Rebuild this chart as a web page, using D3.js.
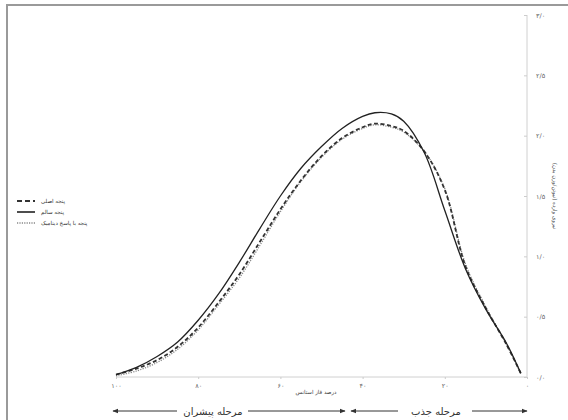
<!DOCTYPE html>
<html><head><meta charset="utf-8">
<script src="https://cdn.jsdelivr.net/npm/d3@7"></script>
<style>body{margin:0;background:#fff}svg{display:block;font-family:"DejaVu Sans",sans-serif}</style>
</head><body>
<svg id="c" width="568" height="420"></svg>
<script>
const stance = [100,95,90,85,80,75,70,65,60,55,50,45,40,37,33,30,25,20,15,10,5,1.5];
const mainFoot = [0.02,0.07,0.14,0.25,0.41,0.62,0.85,1.12,1.39,1.63,1.83,1.98,2.07,2.10,2.08,2.04,1.87,1.55,0.92,0.57,0.27,0.03];
const healthyFoot = [0.02,0.08,0.17,0.29,0.47,0.69,0.95,1.23,1.50,1.73,1.91,2.06,2.16,2.19,2.18,2.12,1.86,1.38,0.90,0.56,0.28,0.03];
const dynamicFoot = [0.01,0.05,0.12,0.23,0.39,0.60,0.82,1.09,1.37,1.62,1.82,1.97,2.06,2.09,2.07,2.03,1.87,1.56,0.94,0.58,0.27,0.03];
const seriesNames = ["پنجه اصلی","پنجه سالم","پنجه با پاسخ دینامیک"];
const xTicks = [100,80,60,40,20,0];
const xTickLabels = ["۱۰۰","۸۰","۶۰","۴۰","۲۰","۰"];
const yTicks = [0,0.5,1,1.5,2,2.5,3];
const yTickLabels = ["۰/۰","۰/۵","۱/۰","۱/۵","۲/۰","۲/۵","۳/۰"];
const xTitle = "درصد فاز استانس";
const yTitle = "نیروی وارده (نیوتن/وزن بدن)";
const phaseLabels = ["مرحله پیشران","مرحله جذب"];

const svg = d3.select("#c");
svg.append("rect").attr("x",7).attr("y",5).attr("width",575).attr("height",430)
  .attr("fill","none").attr("stroke","#9a9a9a").attr("stroke-width",2);

const x = d3.scaleLinear().domain([100,0]).range([116,527]);
const y = d3.scaleLinear().domain([0,3]).range([377,15]);

svg.append("line").attr("x1",x(100)).attr("x2",x(0)).attr("y1",y(0)).attr("y2",y(0)).attr("stroke","#d0d0d0");
svg.append("line").attr("x1",x(0)).attr("x2",x(0)).attr("y1",y(0)).attr("y2",y(3)).attr("stroke","#d0d0d0");

const gy = svg.append("g").attr("transform",`translate(${x(0)},0)`)
  .call(d3.axisRight(y).tickValues(yTicks).tickSize(0).tickPadding(9).tickFormat((d,i)=>yTickLabels[i]));
gy.select(".domain").remove();
gy.selectAll("text").attr("font-size",6.5).attr("fill","#666").attr("font-family","DejaVu Sans");
gy.selectAll(".tick").append("line").attr("x1",-3).attr("x2",0).attr("stroke","#ccc");

const gx = svg.append("g").attr("transform",`translate(0,${y(0)})`)
  .call(d3.axisBottom(x).tickValues(xTicks).tickSize(0).tickPadding(6).tickFormat((d,i)=>xTickLabels[i]));
gx.select(".domain").remove();
gx.selectAll("text").attr("font-size",6.5).attr("fill","#666").attr("font-family","DejaVu Sans");
gx.selectAll(".tick").append("line").attr("y1",0).attr("y2",2).attr("stroke","#ccc");

svg.append("text").attr("x",316).attr("y",394).attr("text-anchor","middle")
  .attr("font-size",5.5).attr("fill","#444").text(xTitle);
svg.append("text").attr("transform","translate(553,196) rotate(90)").attr("text-anchor","middle")
  .attr("font-size",5.5).attr("fill","#444").text(yTitle);

const line = d3.line().x(d=>x(d[0])).y(d=>y(d[1])).curve(d3.curveCatmullRom.alpha(0.5));
const series = [
  {vals: dynamicFoot, stroke:"#888", dash:"1.2,1.3", w:1.3},
  {vals: mainFoot, stroke:"#333", dash:"4,2.5", w:1.8},
  {vals: healthyFoot, stroke:"#222", dash:null, w:1.3}
];
series.forEach(s=>{
  svg.append("path").datum(stance.map((v,i)=>[v,s.vals[i]]))
    .attr("d",line).attr("fill","none").attr("stroke",s.stroke)
    .attr("stroke-width",s.w).attr("stroke-dasharray",s.dash);
});

const leg = [
  {name:seriesNames[0], stroke:"#333", dash:"5,3", w:2.2, yy:201},
  {name:seriesNames[1], stroke:"#222", dash:null, w:1.6, yy:212},
  {name:seriesNames[2], stroke:"#888", dash:"1.2,1.2", w:1.3, yy:223}
];
leg.forEach(l=>{
  svg.append("line").attr("x1",17).attr("x2",35).attr("y1",l.yy).attr("y2",l.yy)
    .attr("stroke",l.stroke).attr("stroke-width",l.w).attr("stroke-dasharray",l.dash);
  svg.append("text").attr("x",41).attr("y",l.yy+2).attr("font-size",5.5).attr("fill","#333")
    .attr("direction","rtl").attr("text-anchor","end").text(l.name);
});

const defs = svg.append("defs");
defs.append("marker").attr("id","ah").attr("viewBox","0 0 10 10").attr("refX",9).attr("refY",5)
  .attr("markerWidth",6).attr("markerHeight",6).attr("orient","auto-start-reverse")
  .append("path").attr("d","M0,1 L10,5 L0,9 z").attr("fill","#333");
const ay = 411;
function arrow(x1,x2,start,end){
  const l = svg.append("line").attr("x1",x1).attr("x2",x2).attr("y1",ay).attr("y2",ay)
    .attr("stroke","#333").attr("stroke-width",1);
  if(start) l.attr("marker-start","url(#ah)");
  if(end) l.attr("marker-end","url(#ah)");
}
arrow(113,177,true,false);
arrow(248,345,false,true);
arrow(351,398,true,false);
arrow(472,527,false,true);
svg.append("text").attr("x",213).attr("y",ay+4).attr("text-anchor","middle").attr("font-size",10).attr("fill","#333").text(phaseLabels[0]);
svg.append("text").attr("x",436).attr("y",ay+4).attr("text-anchor","middle").attr("font-size",10).attr("fill","#333").text(phaseLabels[1]);
</script>
</body></html>
